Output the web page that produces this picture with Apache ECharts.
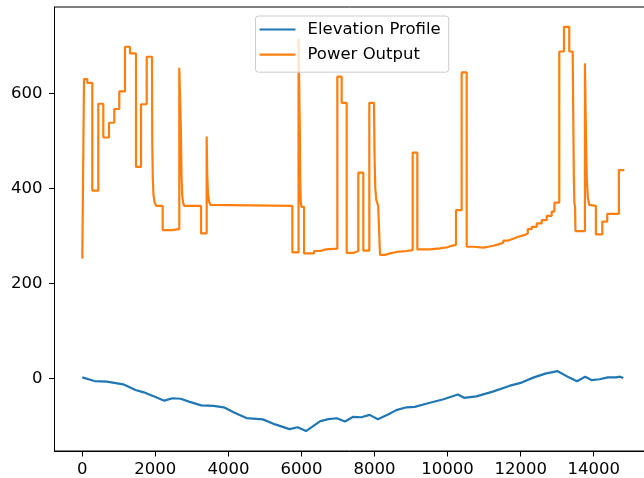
<!DOCTYPE html>
<html>
<head>
<meta charset="utf-8">
<script src="https://cdn.jsdelivr.net/npm/echarts@6/dist/echarts.min.js"></script>
<style>html,body{margin:0;padding:0;background:#fff}#c{width:644px;height:478px}</style>
</head>
<body>
<div id="c"></div>
<script>
// Power output: [start distance, level] (step function)
var powerX = [0,47,137,274,438,575,731,876,1013,1169,1306,1470,1607,1763,1908,1915,1930,1950,1980,2030,2200,2450,2655,2700,2715,2735,2760,2790,3250,3405,3420,3440,3470,3510,3550,5750,5920,5955,5965,5980,6000,6070,6343,6507,6671,6981,7100,7238,7419,7556,7693,7857,7985,8000,8020,8050,8080,8100,8150,8286,8423,8606,8880,9044,9171,9518,9790,10000,10065,10230,10385,10523,10704,10978,11115,11251,11388,11525,11662,11799,11936,12119,12195,12302,12439,12576,12713,12850,12924,13058,13186,13331,13424,13440,13455,13470,13490,13500,13760,13790,13810,13840,13880,13900,14060,14235,14370,14690,14840];
var powerY = [252,630,622,395,578,507,538,567,604,698,684,445,577,677,677,500,420,385,370,363,312,314,654,520,430,385,370,363,305,509,430,390,372,365,363,265,716,520,420,372,361,263,268,271.5,273,635,580,264,268,433,269,580,580,470,400,375,368,363,260,263,266,268,270,475,271.6,273.5,276,278,281,354,644,277,275,277,279,282,285.5,290,294,298,302,305,314,319,326,333,342,351,370,688,740,688,688,560,430,370,361,310,663,500,420,380,365,363,303,330,346,438.5,438.5];
// Elevation profile
var elevX = [0,333,670,1120,1457,1682,2020,2245,2470,2693,2918,3255,3592,3874,4155,4492,4942,5280,5673,5897,6123,6516,6740,6966,7192,7416,7640,7865,8090,8370,8595,8877,9102,9440,9888,10282,10450,10788,11237,11686,12026,12363,12700,13015,13318,13542,13767,13937,14160,14386,14610,14720,14810];
var elevY = [2,-5.7,-7,-12.7,-24.6,-29.5,-40,-47,-42,-43,-49,-57,-58,-61,-72,-83.6,-86.4,-97,-107,-103,-111,-90,-86,-84,-91,-81,-82,-77,-86,-76,-67,-61,-60,-53,-44,-34,-41,-38,-28,-16,-9,2,10.5,15,2,-6,3.4,-3.6,-2,2,2,3.4,0.6];
var xTicks = [0,2000,4000,6000,8000,10000,12000,14000];
var yTicks = [0,200,400,600];

function pairs(xs, ys){ return xs.map(function(x,i){ return [x, ys[i]]; }); }
function plain(v){ return String(v); }

var font = 'DejaVu Sans';
var fs = 16.5;
var chart = echarts.init(document.getElementById('c'), null, {renderer:'canvas'});
chart.setOption({
  animation: false,
  backgroundColor: '#fff',
  textStyle: {fontFamily: font},
  grid: {left: 54.5, top: 7, width: 597, height: 444, show: true, borderColor: '#000', borderWidth: 1, containLabel: false, outerBoundsMode: 'none'},
  legend: {
    orient: 'vertical', left: 255.5, top: 16,
    padding: [5, 8, 9, 4], itemGap: 8.2, itemWidth: 36, itemHeight: 2.2,
    icon: 'rect',
    backgroundColor: 'rgba(255,255,255,0.8)', borderColor: '#cccccc', borderWidth: 1, borderRadius: 3,
    textStyle: {fontFamily: font, fontSize: fs, color: '#000', lineHeight: 16.5, padding: [0,0,0,7]},
    data: ['Elevation Profile', 'Power Output']
  },
  xAxis: {
    type: 'value', min: -761, max: 15582,
    axisLine: {show: true, onZero: false, lineStyle: {color: '#000', width: 1}},
    axisTick: {show: true, length: 5.5, lineStyle: {color: '#000'}, customValues: xTicks},
    axisLabel: {fontFamily: font, fontSize: fs, color: '#000', margin: 10, customValues: xTicks, formatter: plain},
    splitLine: {show: false}
  },
  yAxis: {
    type: 'value', min: -153, max: 781.7,
    axisLine: {show: true, onZero: false, lineStyle: {color: '#000', width: 1}},
    axisTick: {show: true, length: 5.5, lineStyle: {color: '#000'}, customValues: yTicks},
    axisLabel: {fontFamily: font, fontSize: fs, color: '#000', margin: 12, customValues: yTicks, formatter: plain},
    splitLine: {show: false}
  },
  series: [
    {name: 'Elevation Profile', type: 'line', data: pairs(elevX, elevY), showSymbol: false, smooth: false,
     lineStyle: {color: '#1f77b4', width: 2.2}, itemStyle: {color: '#1f77b4'}},
    {name: 'Power Output', type: 'line', step: 'end', data: pairs(powerX, powerY), showSymbol: false,
     lineStyle: {color: '#ff7f0e', width: 2.2}, itemStyle: {color: '#ff7f0e'}}
  ]
});
</script>
</body>
</html>
